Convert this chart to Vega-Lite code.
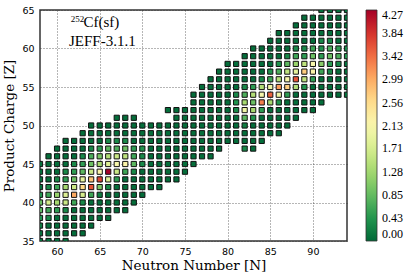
{
"$schema": "https://vega.github.io/schema/vega-lite/v6.json",
"width": 307, "height": 231,
"autosize": {"type": "none"},
"padding": {"left": 40, "top": 10, "right": 68, "bottom": 37},
"background": "white",
"config": {
 "view": {"stroke": "#333", "strokeWidth": 1.5},
 "axis": {"grid": true, "gridColor": "#333", "gridDash": [1, 2], "gridWidth": 0.8, "gridOpacity": 0.9, "ticks": false, "domain": false, "labelFont": "DejaVu Sans", "labelFontSize": 9.5, "labelColor": "#000", "labelFlush": false, "labelOverlap": false, "titleFont": "DejaVu Serif", "titleFontSize": 13.5, "titleFontWeight": "normal", "titleColor": "#000"}
},
"layer": [
{
"data": {"values": [
{"n":58,"z":35,"v":0.05},{"n":59,"z":35,"v":0.05},{"n":60,"z":35,"v":0.05},{"n":61,"z":35,"v":0.05},
{"n":58,"z":36,"v":0.05},{"n":59,"z":36,"v":0.05},{"n":60,"z":36,"v":0.05},{"n":61,"z":36,"v":0.05},{"n":62,"z":36,"v":0.05},{"n":63,"z":36,"v":0.05},
{"n":58,"z":37,"v":0.15},{"n":59,"z":37,"v":0.05},{"n":60,"z":37,"v":0.05},{"n":61,"z":37,"v":0.05},{"n":62,"z":37,"v":0.05},{"n":63,"z":37,"v":0.05},{"n":64,"z":37,"v":0.05},
{"n":58,"z":38,"v":0.4},{"n":59,"z":38,"v":0.3},{"n":60,"z":38,"v":0.05},{"n":61,"z":38,"v":0.05},{"n":62,"z":38,"v":0.05},{"n":63,"z":38,"v":0.05},{"n":64,"z":38,"v":0.05},{"n":65,"z":38,"v":0.05},{"n":66,"z":38,"v":0.05},
{"n":58,"z":39,"v":0.8},{"n":59,"z":39,"v":0.6},{"n":60,"z":39,"v":0.5},{"n":61,"z":39,"v":0.3},{"n":62,"z":39,"v":0.05},{"n":63,"z":39,"v":0.05},{"n":64,"z":39,"v":0.05},{"n":65,"z":39,"v":0.05},{"n":66,"z":39,"v":0.05},{"n":67,"z":39,"v":0.05},{"n":68,"z":39,"v":0.05},
{"n":58,"z":40,"v":0.9},{"n":59,"z":40,"v":1.7},{"n":60,"z":40,"v":1.3},{"n":61,"z":40,"v":1.6},{"n":62,"z":40,"v":0.6},{"n":63,"z":40,"v":0.3},{"n":64,"z":40,"v":0.05},{"n":65,"z":40,"v":0.05},{"n":66,"z":40,"v":0.05},{"n":67,"z":40,"v":0.05},{"n":68,"z":40,"v":0.05},{"n":69,"z":40,"v":0.05},
{"n":58,"z":41,"v":0.4},{"n":59,"z":41,"v":0.6},{"n":60,"z":41,"v":1.2},{"n":61,"z":41,"v":1.8},{"n":62,"z":41,"v":3.0},{"n":63,"z":41,"v":1.7},{"n":64,"z":41,"v":0.6},{"n":65,"z":41,"v":0.2},{"n":66,"z":41,"v":0.05},{"n":67,"z":41,"v":0.05},{"n":68,"z":41,"v":0.05},{"n":69,"z":41,"v":0.05},{"n":70,"z":41,"v":0.05},
{"n":58,"z":42,"v":0.05},{"n":59,"z":42,"v":0.3},{"n":60,"z":42,"v":0.6},{"n":61,"z":42,"v":1.3},{"n":62,"z":42,"v":1.6},{"n":63,"z":42,"v":2.6},{"n":64,"z":42,"v":3.6},{"n":65,"z":42,"v":1.0},{"n":66,"z":42,"v":0.3},{"n":67,"z":42,"v":0.05},{"n":68,"z":42,"v":0.05},{"n":69,"z":42,"v":0.05},{"n":70,"z":42,"v":0.05},{"n":71,"z":42,"v":0.05},{"n":72,"z":42,"v":0.05},
{"n":58,"z":43,"v":0.05},{"n":59,"z":43,"v":0.05},{"n":60,"z":43,"v":0.3},{"n":61,"z":43,"v":0.5},{"n":62,"z":43,"v":0.9},{"n":63,"z":43,"v":1.9},{"n":64,"z":43,"v":2.8},{"n":65,"z":43,"v":3.7},{"n":66,"z":43,"v":1.8},{"n":67,"z":43,"v":0.5},{"n":68,"z":43,"v":0.05},{"n":69,"z":43,"v":0.05},{"n":70,"z":43,"v":0.05},{"n":71,"z":43,"v":0.05},{"n":72,"z":43,"v":0.05},{"n":73,"z":43,"v":0.05},{"n":74,"z":43,"v":0.05},
{"n":58,"z":44,"v":0.05},{"n":59,"z":44,"v":0.05},{"n":60,"z":44,"v":0.05},{"n":61,"z":44,"v":0.3},{"n":62,"z":44,"v":0.5},{"n":63,"z":44,"v":0.8},{"n":64,"z":44,"v":1.6},{"n":65,"z":44,"v":2.2},{"n":66,"z":44,"v":4.27},{"n":67,"z":44,"v":1.6},{"n":68,"z":44,"v":0.6},{"n":69,"z":44,"v":0.3},{"n":70,"z":44,"v":0.05},{"n":71,"z":44,"v":0.05},{"n":72,"z":44,"v":0.05},{"n":73,"z":44,"v":0.05},{"n":74,"z":44,"v":0.05},{"n":75,"z":44,"v":0.05},
{"n":58,"z":45,"v":0.05},{"n":59,"z":45,"v":0.05},{"n":60,"z":45,"v":0.05},{"n":61,"z":45,"v":0.05},{"n":62,"z":45,"v":0.3},{"n":63,"z":45,"v":0.5},{"n":64,"z":45,"v":0.9},{"n":65,"z":45,"v":1.3},{"n":66,"z":45,"v":1.8},{"n":67,"z":45,"v":2.1},{"n":68,"z":45,"v":2.2},{"n":69,"z":45,"v":0.8},{"n":70,"z":45,"v":0.3},{"n":71,"z":45,"v":0.05},{"n":72,"z":45,"v":0.05},{"n":73,"z":45,"v":0.05},{"n":74,"z":45,"v":0.05},{"n":75,"z":45,"v":0.05},{"n":76,"z":45,"v":0.05},
{"n":59,"z":46,"v":0.05},{"n":60,"z":46,"v":0.05},{"n":61,"z":46,"v":0.05},{"n":62,"z":46,"v":0.05},{"n":63,"z":46,"v":0.3},{"n":64,"z":46,"v":0.7},{"n":65,"z":46,"v":1.0},{"n":66,"z":46,"v":1.4},{"n":67,"z":46,"v":1.6},{"n":68,"z":46,"v":1.5},{"n":69,"z":46,"v":0.6},{"n":70,"z":46,"v":0.3},{"n":71,"z":46,"v":0.05},{"n":72,"z":46,"v":0.05},{"n":73,"z":46,"v":0.05},{"n":74,"z":46,"v":0.05},{"n":75,"z":46,"v":0.05},{"n":76,"z":46,"v":0.05},{"n":77,"z":46,"v":0.05},{"n":78,"z":46,"v":0.05},
{"n":60,"z":47,"v":0.05},{"n":61,"z":47,"v":0.05},{"n":62,"z":47,"v":0.05},{"n":63,"z":47,"v":0.05},{"n":64,"z":47,"v":0.3},{"n":65,"z":47,"v":0.5},{"n":66,"z":47,"v":0.8},{"n":67,"z":47,"v":0.7},{"n":68,"z":47,"v":0.9},{"n":69,"z":47,"v":0.5},{"n":70,"z":47,"v":0.4},{"n":71,"z":47,"v":0.05},{"n":72,"z":47,"v":0.05},{"n":73,"z":47,"v":0.05},{"n":74,"z":47,"v":0.05},{"n":75,"z":47,"v":0.05},{"n":76,"z":47,"v":0.05},{"n":77,"z":47,"v":0.05},{"n":78,"z":47,"v":0.05},{"n":79,"z":47,"v":0.05},{"n":82,"z":47,"v":0.3},{"n":83,"z":47,"v":0.05},
{"n":61,"z":48,"v":0.05},{"n":62,"z":48,"v":0.05},{"n":63,"z":48,"v":0.05},{"n":64,"z":48,"v":0.05},{"n":65,"z":48,"v":0.05},{"n":66,"z":48,"v":0.3},{"n":67,"z":48,"v":0.3},{"n":68,"z":48,"v":0.3},{"n":69,"z":48,"v":0.05},{"n":70,"z":48,"v":0.05},{"n":71,"z":48,"v":0.05},{"n":72,"z":48,"v":0.05},{"n":73,"z":48,"v":0.05},{"n":74,"z":48,"v":0.05},{"n":75,"z":48,"v":0.05},{"n":76,"z":48,"v":0.05},{"n":77,"z":48,"v":0.05},{"n":78,"z":48,"v":0.05},{"n":79,"z":48,"v":0.05},{"n":80,"z":48,"v":0.05},{"n":81,"z":48,"v":0.05},{"n":82,"z":48,"v":0.05},{"n":83,"z":48,"v":0.05},{"n":84,"z":48,"v":0.05},
{"n":63,"z":49,"v":0.05},{"n":64,"z":49,"v":0.05},{"n":65,"z":49,"v":0.05},{"n":66,"z":49,"v":0.05},{"n":67,"z":49,"v":0.05},{"n":68,"z":49,"v":0.05},{"n":69,"z":49,"v":0.05},{"n":70,"z":49,"v":0.05},{"n":71,"z":49,"v":0.05},{"n":72,"z":49,"v":0.05},{"n":73,"z":49,"v":0.05},{"n":74,"z":49,"v":0.05},{"n":75,"z":49,"v":0.05},{"n":76,"z":49,"v":0.05},{"n":77,"z":49,"v":0.05},{"n":78,"z":49,"v":0.05},{"n":79,"z":49,"v":0.05},{"n":80,"z":49,"v":0.05},{"n":81,"z":49,"v":0.05},{"n":82,"z":49,"v":0.05},{"n":83,"z":49,"v":0.05},{"n":84,"z":49,"v":0.05},{"n":85,"z":49,"v":0.05},{"n":86,"z":49,"v":0.05},
{"n":64,"z":50,"v":0.05},{"n":65,"z":50,"v":0.05},{"n":66,"z":50,"v":0.05},{"n":67,"z":50,"v":0.05},{"n":68,"z":50,"v":0.05},{"n":69,"z":50,"v":0.05},{"n":70,"z":50,"v":0.05},{"n":71,"z":50,"v":0.05},{"n":72,"z":50,"v":0.05},{"n":73,"z":50,"v":0.05},{"n":74,"z":50,"v":0.05},{"n":75,"z":50,"v":0.05},{"n":76,"z":50,"v":0.05},{"n":77,"z":50,"v":0.05},{"n":78,"z":50,"v":0.05},{"n":79,"z":50,"v":0.05},{"n":80,"z":50,"v":0.05},{"n":81,"z":50,"v":0.05},{"n":82,"z":50,"v":0.2},{"n":83,"z":50,"v":0.05},{"n":84,"z":50,"v":0.05},{"n":85,"z":50,"v":0.05},{"n":86,"z":50,"v":0.05},{"n":87,"z":50,"v":0.05},
{"n":67,"z":51,"v":0.05},{"n":68,"z":51,"v":0.05},{"n":69,"z":51,"v":0.05},{"n":74,"z":51,"v":0.05},{"n":75,"z":51,"v":0.05},{"n":76,"z":51,"v":0.05},{"n":77,"z":51,"v":0.05},{"n":78,"z":51,"v":0.05},{"n":79,"z":51,"v":0.05},{"n":80,"z":51,"v":0.05},{"n":81,"z":51,"v":0.05},{"n":82,"z":51,"v":0.8},{"n":83,"z":51,"v":0.4},{"n":84,"z":51,"v":0.05},{"n":85,"z":51,"v":0.05},{"n":86,"z":51,"v":0.05},{"n":87,"z":51,"v":0.05},{"n":88,"z":51,"v":0.05},
{"n":73,"z":52,"v":0.05},{"n":74,"z":52,"v":0.05},{"n":75,"z":52,"v":0.05},{"n":76,"z":52,"v":0.05},{"n":77,"z":52,"v":0.05},{"n":78,"z":52,"v":0.05},{"n":79,"z":52,"v":0.05},{"n":80,"z":52,"v":0.05},{"n":81,"z":52,"v":0.3},{"n":82,"z":52,"v":2.0},{"n":83,"z":52,"v":1.3},{"n":84,"z":52,"v":0.5},{"n":85,"z":52,"v":0.05},{"n":86,"z":52,"v":0.05},{"n":87,"z":52,"v":0.05},{"n":88,"z":52,"v":0.05},{"n":89,"z":52,"v":0.05},{"n":90,"z":52,"v":0.05},
{"n":76,"z":53,"v":0.05},{"n":77,"z":53,"v":0.05},{"n":78,"z":53,"v":0.05},{"n":79,"z":53,"v":0.05},{"n":80,"z":53,"v":0.05},{"n":81,"z":53,"v":0.4},{"n":82,"z":53,"v":1.3},{"n":83,"z":53,"v":0.9},{"n":84,"z":53,"v":3.3},{"n":85,"z":53,"v":1.3},{"n":86,"z":53,"v":0.4},{"n":87,"z":53,"v":0.05},{"n":88,"z":53,"v":0.05},{"n":89,"z":53,"v":0.05},{"n":90,"z":53,"v":0.05},{"n":91,"z":53,"v":0.05},
{"n":76,"z":54,"v":0.05},{"n":77,"z":54,"v":0.05},{"n":78,"z":54,"v":0.05},{"n":79,"z":54,"v":0.05},{"n":80,"z":54,"v":0.05},{"n":81,"z":54,"v":0.3},{"n":82,"z":54,"v":0.7},{"n":83,"z":54,"v":1.4},{"n":84,"z":54,"v":2.1},{"n":85,"z":54,"v":3.5},{"n":86,"z":54,"v":2.0},{"n":87,"z":54,"v":0.5},{"n":88,"z":54,"v":0.05},{"n":89,"z":54,"v":0.05},{"n":90,"z":54,"v":0.05},{"n":91,"z":54,"v":0.05},{"n":92,"z":54,"v":0.05},{"n":93,"z":54,"v":0.05},{"n":94,"z":54,"v":0.05},
{"n":77,"z":55,"v":0.05},{"n":78,"z":55,"v":0.05},{"n":79,"z":55,"v":0.05},{"n":80,"z":55,"v":0.05},{"n":81,"z":55,"v":0.05},{"n":82,"z":55,"v":0.3},{"n":83,"z":55,"v":0.5},{"n":84,"z":55,"v":1.4},{"n":85,"z":55,"v":2.0},{"n":86,"z":55,"v":3.1},{"n":87,"z":55,"v":2.7},{"n":88,"z":55,"v":1.4},{"n":89,"z":55,"v":0.4},{"n":90,"z":55,"v":0.05},{"n":91,"z":55,"v":0.05},{"n":92,"z":55,"v":0.05},{"n":93,"z":55,"v":0.05},{"n":94,"z":55,"v":0.05},
{"n":78,"z":56,"v":0.05},{"n":79,"z":56,"v":0.05},{"n":80,"z":56,"v":0.05},{"n":81,"z":56,"v":0.05},{"n":82,"z":56,"v":0.05},{"n":83,"z":56,"v":0.05},{"n":84,"z":56,"v":0.3},{"n":85,"z":56,"v":0.6},{"n":86,"z":56,"v":1.4},{"n":87,"z":56,"v":2.1},{"n":88,"z":56,"v":3.6},{"n":89,"z":56,"v":1.5},{"n":90,"z":56,"v":0.5},{"n":91,"z":56,"v":0.05},{"n":92,"z":56,"v":0.05},{"n":93,"z":56,"v":0.05},{"n":94,"z":56,"v":0.05},
{"n":79,"z":57,"v":0.05},{"n":80,"z":57,"v":0.05},{"n":81,"z":57,"v":0.05},{"n":82,"z":57,"v":0.05},{"n":83,"z":57,"v":0.05},{"n":84,"z":57,"v":0.05},{"n":85,"z":57,"v":0.4},{"n":86,"z":57,"v":0.7},{"n":87,"z":57,"v":1.5},{"n":88,"z":57,"v":1.9},{"n":89,"z":57,"v":2.7},{"n":90,"z":57,"v":2.2},{"n":91,"z":57,"v":0.6},{"n":92,"z":57,"v":0.3},{"n":93,"z":57,"v":0.05},{"n":94,"z":57,"v":0.05},
{"n":80,"z":58,"v":0.05},{"n":81,"z":58,"v":0.05},{"n":82,"z":58,"v":0.05},{"n":83,"z":58,"v":0.05},{"n":84,"z":58,"v":0.05},{"n":85,"z":58,"v":0.05},{"n":86,"z":58,"v":0.4},{"n":87,"z":58,"v":0.8},{"n":88,"z":58,"v":1.2},{"n":89,"z":58,"v":1.5},{"n":90,"z":58,"v":2.1},{"n":91,"z":58,"v":1.1},{"n":92,"z":58,"v":0.5},{"n":93,"z":58,"v":0.3},{"n":94,"z":58,"v":0.05},
{"n":82,"z":59,"v":0.05},{"n":83,"z":59,"v":0.05},{"n":84,"z":59,"v":0.05},{"n":85,"z":59,"v":0.05},{"n":86,"z":59,"v":0.05},{"n":87,"z":59,"v":0.3},{"n":88,"z":59,"v":0.6},{"n":89,"z":59,"v":0.5},{"n":90,"z":59,"v":0.9},{"n":91,"z":59,"v":0.5},{"n":92,"z":59,"v":0.9},{"n":93,"z":59,"v":0.7},{"n":94,"z":59,"v":0.4},
{"n":83,"z":60,"v":0.05},{"n":84,"z":60,"v":0.05},{"n":85,"z":60,"v":0.05},{"n":86,"z":60,"v":0.05},{"n":87,"z":60,"v":0.05},{"n":88,"z":60,"v":0.3},{"n":89,"z":60,"v":0.3},{"n":90,"z":60,"v":0.6},{"n":91,"z":60,"v":0.4},{"n":92,"z":60,"v":0.7},{"n":93,"z":60,"v":0.5},{"n":94,"z":60,"v":0.3},
{"n":85,"z":61,"v":0.05},{"n":86,"z":61,"v":0.05},{"n":87,"z":61,"v":0.05},{"n":88,"z":61,"v":0.05},{"n":89,"z":61,"v":0.05},{"n":90,"z":61,"v":0.05},{"n":91,"z":61,"v":0.3},{"n":92,"z":61,"v":0.3},{"n":93,"z":61,"v":0.05},{"n":94,"z":61,"v":0.05},
{"n":86,"z":62,"v":0.05},{"n":87,"z":62,"v":0.05},{"n":88,"z":62,"v":0.05},{"n":89,"z":62,"v":0.05},{"n":90,"z":62,"v":0.05},{"n":91,"z":62,"v":0.05},{"n":92,"z":62,"v":0.05},{"n":93,"z":62,"v":0.05},{"n":94,"z":62,"v":0.05},
{"n":88,"z":63,"v":0.05},{"n":89,"z":63,"v":0.05},{"n":90,"z":63,"v":0.05},{"n":91,"z":63,"v":0.05},{"n":92,"z":63,"v":0.05},{"n":93,"z":63,"v":0.05},{"n":94,"z":63,"v":0.05},
{"n":89,"z":64,"v":0.05},{"n":90,"z":64,"v":0.05},{"n":91,"z":64,"v":0.05},{"n":92,"z":64,"v":0.05},{"n":93,"z":64,"v":0.05},{"n":94,"z":64,"v":0.05},
{"n":91,"z":65,"v":0.05},{"n":92,"z":65,"v":0.05},{"n":93,"z":65,"v":0.05},{"n":94,"z":65,"v":0.05}
]},
"mark": {"type": "point", "shape": "square", "filled": true, "size": 27, "stroke": "#111", "strokeWidth": 1, "opacity": 1, "clip": true},
"encoding": {
 "x": {"field": "n", "type": "quantitative", "scale": {"domain": [58, 94], "nice": false, "zero": false}, "axis": {"values": [60, 65, 70, 75, 80, 85, 90], "tickCount": 20, "title": "Neutron Number [N]", "labelPadding": 5, "titlePadding": 3}},
 "y": {"field": "z", "type": "quantitative", "scale": {"domain": [35, 65], "nice": false, "zero": false}, "axis": {"values": [35, 40, 45, 50, 55, 60, 65], "tickCount": 20, "title": "Product Charge [Z]", "labelPadding": 6, "titlePadding": 5}},
 "color": {"field": "v", "type": "quantitative", "scale": {"scheme": "redyellowgreen", "reverse": true, "domain": [0, 4.27]},
  "legend": {"title": null, "orient": "right", "offset": 19, "gradientLength": 231, "gradientThickness": 11, "values": [0, 0.43, 0.85, 1.28, 1.71, 2.13, 2.56, 2.99, 3.42, 3.84, 4.27], "format": ".2f", "labelFont": "Liberation Serif", "labelFontSize": 12, "labelColor": "#000", "labelOffset": 5, "labelBaseline": "middle", "labelOverlap": false, "gradientStrokeColor": "#333", "gradientStrokeWidth": 0.8}}
}
},
{
"data": {"values": [{"t": "252"}]},
"mark": {"type": "text", "font": "Liberation Serif", "fontSize": 9, "align": "left", "baseline": "alphabetic", "color": "#000"},
"encoding": {"x": {"datum": 61.6}, "y": {"datum": 63.5}, "text": {"field": "t"}}
},
{
"data": {"values": [{"t": "Cf(sf)"}]},
"mark": {"type": "text", "font": "Liberation Serif", "fontSize": 15, "align": "left", "baseline": "alphabetic", "color": "#000"},
"encoding": {"x": {"datum": 63.1}, "y": {"datum": 62.8}, "text": {"field": "t"}}
},
{
"data": {"values": [{"t": "JEFF-3.1.1"}]},
"mark": {"type": "text", "font": "Liberation Serif", "fontSize": 15, "align": "left", "baseline": "alphabetic", "color": "#000"},
"encoding": {"x": {"datum": 61.4}, "y": {"datum": 60.3}, "text": {"field": "t"}}
}
]
}
